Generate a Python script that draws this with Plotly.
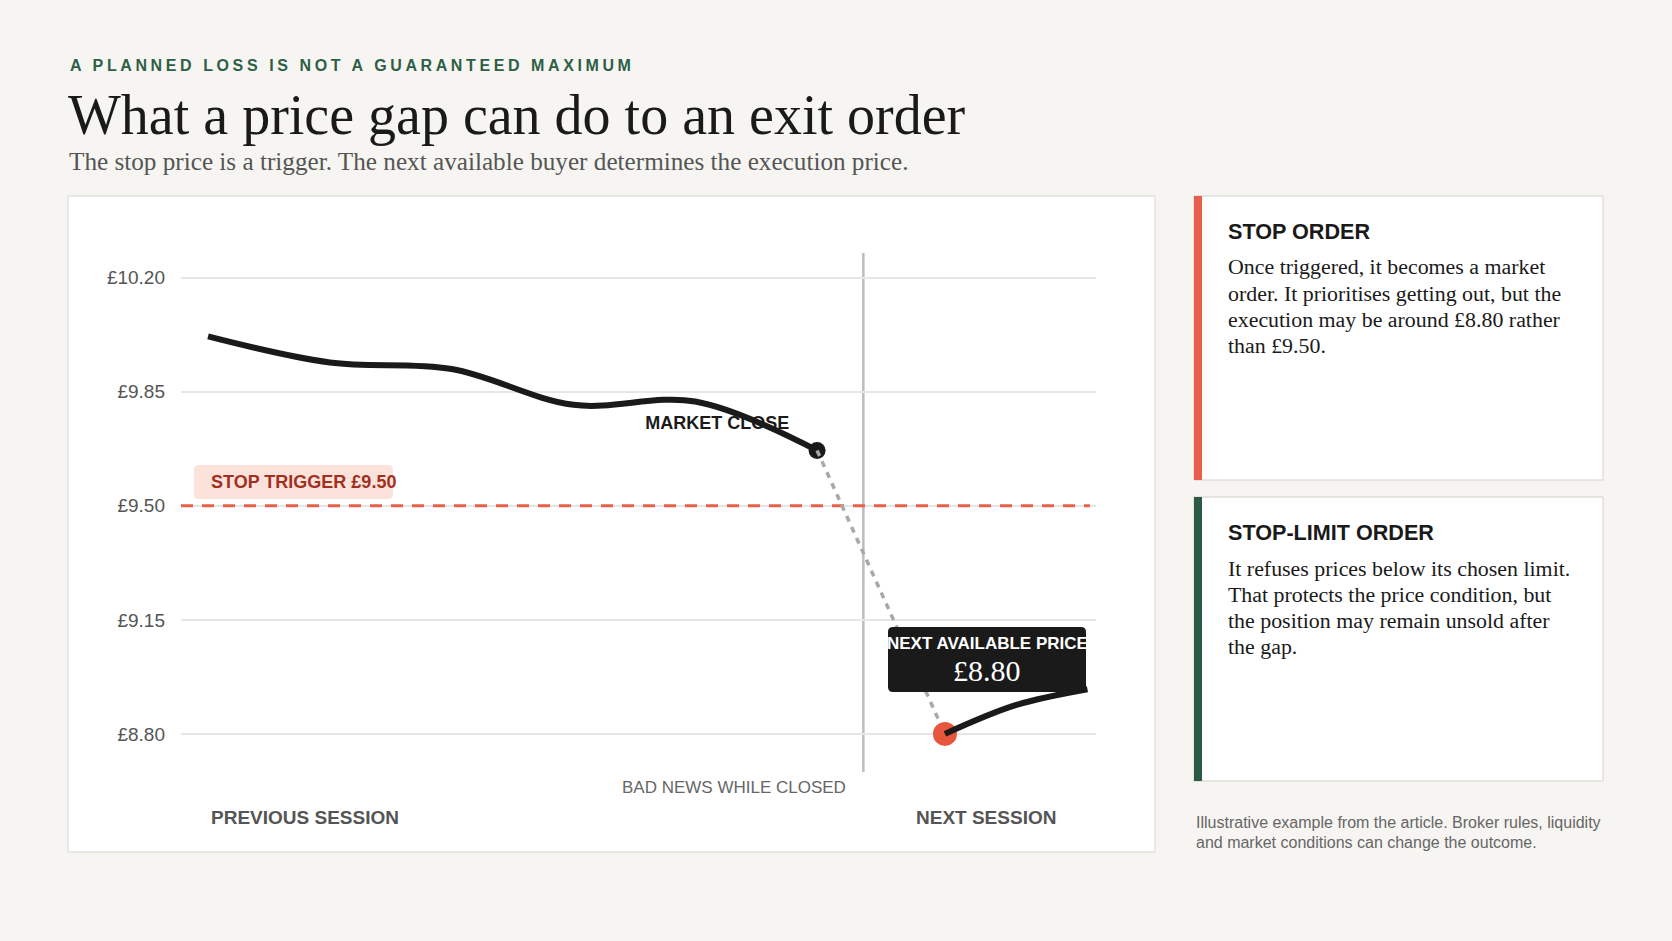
import plotly.graph_objects as go

W, H = 1672, 941

# ---------------- data ----------------
prev_x = [0, 1, 2, 3, 4, 5]
prev_y = [10.02, 9.94, 9.92, 9.81, 9.82, 9.67]
next_x = [6.05, 6.63, 7.22]
next_y = [8.80, 8.888, 8.937]
stop_trigger = 9.50
gap_x = 5.38
y_ticks = [8.80, 9.15, 9.50, 9.85, 10.20]
y_tick_labels = ["£8.80", "£9.15", "£9.50", "£9.85", "£10.20"]
x_range = [-0.222, 7.29]
y_range = [8.683, 10.276]

eyebrow = "A PLANNED LOSS IS NOT A GUARANTEED MAXIMUM"
title = "What a price gap can do to an exit order"
subtitle = "The stop price is a trigger. The next available buyer determines the execution price."
card1_title = "STOP ORDER"
card1_lines = ["Once triggered, it becomes a market",
               "order. It prioritises getting out, but the",
               "execution may be around £8.80 rather",
               "than £9.50."]
card2_title = "STOP-LIMIT ORDER"
card2_lines = ["It refuses prices below its chosen limit.",
               "That protects the price condition, but",
               "the position may remain unsold after",
               "the gap."]
footnote = ["Illustrative example from the article. Broker rules, liquidity",
            "and market conditions can change the outcome."]

# ---------------- style ----------------
BG = "#f6f5f1"
INK = "#1a1a1a"
RED = "#e8604a"
DOT_RED = "#e8553d"
GREEN = "#2d5a45"
SANS = "Liberation Sans, Arial, sans-serif"
SERIF = "Liberation Serif, Georgia, serif"


def px(x):
    return x / W


def py(y):
    return 1 - y / H


def rrect(x0, y0, x1, y1, r):
    pts = []
    pts.append("M %f,%f" % (px(x0 + r), py(y0)))
    pts.append("L %f,%f" % (px(x1 - r), py(y0)))
    pts.append("Q %f,%f %f,%f" % (px(x1), py(y0), px(x1), py(y0 + r)))
    pts.append("L %f,%f" % (px(x1), py(y1 - r)))
    pts.append("Q %f,%f %f,%f" % (px(x1), py(y1), px(x1 - r), py(y1)))
    pts.append("L %f,%f" % (px(x0 + r), py(y1)))
    pts.append("Q %f,%f %f,%f" % (px(x0), py(y1), px(x0), py(y1 - r)))
    pts.append("L %f,%f" % (px(x0), py(y0 + r)))
    pts.append("Q %f,%f %f,%f" % (px(x0), py(y0), px(x0 + r), py(y0)))
    pts.append("Z")
    return " ".join(pts)


fig = go.Figure()

# stop trigger dashed line
fig.add_trace(go.Scatter(
    x=[x_range[0], 7.24], y=[stop_trigger, stop_trigger], mode="lines",
    line=dict(color=RED, width=3, dash="12px,9px"), hoverinfo="skip"))

# market close label (under the line)
fig.add_trace(go.Scatter(
    x=[prev_x[-1] - 0.82], y=[prev_y[-1] + 0.081], mode="text",
    text=["<b>MARKET CLOSE</b>"], textposition="middle center",
    textfont=dict(family=SANS, size=18, color=INK), hoverinfo="skip"))

# previous session
fig.add_trace(go.Scatter(
    x=prev_x, y=prev_y, mode="lines",
    line=dict(color=INK, width=6, shape="spline", smoothing=1), hoverinfo="skip"))
fig.add_trace(go.Scatter(
    x=[prev_x[-1]], y=[prev_y[-1]], mode="markers",
    marker=dict(color=INK, size=17), hoverinfo="skip"))

# gap
fig.add_trace(go.Scatter(
    x=[prev_x[-1], next_x[0]], y=[prev_y[-1], next_y[0]], mode="lines",
    line=dict(color="#a8a8a8", width=3.5, dash="6px,6px"), hoverinfo="skip"))

# next session
fig.add_trace(go.Scatter(
    x=[next_x[0]], y=[next_y[0]], mode="markers",
    marker=dict(color=DOT_RED, size=24), hoverinfo="skip"))
fig.add_trace(go.Scatter(
    x=next_x, y=next_y, mode="lines",
    line=dict(color=INK, width=6, shape="spline", smoothing=1), hoverinfo="skip"))

shapes = []
# chart card
shapes.append(dict(type="rect", xref="paper", yref="paper",
                   x0=px(68), x1=px(1155), y0=py(852), y1=py(196),
                   fillcolor="white", line=dict(color="#d6d5cf", width=1), layer="below"))
# side cards
for (top, bot, col) in [(196, 480, RED), (497, 781, GREEN)]:
    shapes.append(dict(type="rect", xref="paper", yref="paper",
                       x0=px(1194), x1=px(1603), y0=py(bot), y1=py(top),
                       fillcolor="white", line=dict(color="#d3d2cc", width=1), layer="below"))
    shapes.append(dict(type="rect", xref="paper", yref="paper",
                       x0=px(1194), x1=px(1202), y0=py(bot), y1=py(top),
                       fillcolor=col, line=dict(width=0), layer="below"))
# divider
shapes.append(dict(type="line", xref="x", yref="paper", x0=gap_x, x1=gap_x,
                   y0=py(772), y1=py(253), line=dict(color="#bdbdbd", width=2.5),
                   layer="between"))
# stop trigger label box
shapes.append(dict(type="path", xref="paper", yref="paper", path=rrect(194, 465, 393, 499, 5),
                   fillcolor="#fbe3dc", line=dict(width=0), layer="above"))
# next price label box
shapes.append(dict(type="path", xref="paper", yref="paper", path=rrect(888, 627, 1086, 692, 5),
                   fillcolor=INK, line=dict(width=0), layer="above"))

ann = []


def A(x, y, text, size, color, family=SANS, xanchor="left", bold=False):
    ann.append(dict(xref="paper", yref="paper", x=px(x), y=py(y), text=("<b>%s</b>" % text) if bold else text,
                    showarrow=False, xanchor=xanchor, yanchor="middle",
                    align="left" if xanchor == "left" else "center",
                    font=dict(family=family, size=size, color=color)))


A(68, 65, eyebrow, 16, "#2e5e47", bold=True)
A(66, 115, title, 56, INK, family=SERIF)
A(67, 161, subtitle, 25.2, "#555555", family=SERIF)

A(305, 817, "PREVIOUS SESSION", 19, "#555555", xanchor="center", bold=True)
A(986, 817, "NEXT SESSION", 19, "#555555", xanchor="center", bold=True)
A(734, 787, "BAD NEWS WHILE CLOSED", 17, "#666666", xanchor="center")
A(209, 482, "STOP TRIGGER £9.50", 18, "#a3301f", bold=True)
A(987, 643, "NEXT AVAILABLE PRICE", 17, "white", xanchor="center", bold=True)
A(987, 670, "£8.80", 30, "white", family=SERIF, xanchor="center")

A(1226, 231, card1_title, 21.6, INK, bold=True)
for i, line in enumerate(card1_lines):
    A(1226, 267 + 26.3 * i, line, 21.9, INK, family=SERIF)
A(1226, 532, card2_title, 21.6, INK, bold=True)
for i, line in enumerate(card2_lines):
    A(1226, 568 + 26.3 * i, line, 21.9, INK, family=SERIF)
for i, line in enumerate(footnote):
    A(1194, 822 + 20.5 * i, line, 16, "#666666")

fig.update_layout(
    width=W, height=H, margin=dict(l=0, r=0, t=0, b=0),
    paper_bgcolor=BG, plot_bgcolor="rgba(0,0,0,0)",
    showlegend=False, hovermode=False,
    shapes=shapes, annotations=ann,
    xaxis=dict(domain=[px(181), px(1096)], range=x_range, visible=False, fixedrange=True),
    yaxis=dict(domain=[py(772), py(253)], range=y_range, tickvals=y_ticks, ticktext=y_tick_labels,
               showgrid=True, gridcolor="#e6e6e6", gridwidth=1.5, zeroline=False, showline=False,
               ticks="", ticklabelstandoff=15, fixedrange=True,
               tickfont=dict(family=SANS, size=19, color="#555555")),
)

post = """
document.body.style.margin = '0';
document.body.style.padding = '0';
document.body.style.background = '%s';
document.querySelectorAll('text').forEach(function(t){
  if (t.textContent.indexOf('A PLANNED LOSS') === 0) { t.style.letterSpacing = '3.6px'; }
});
""" % BG
fig.write_html("out.html", post_script=post, config={"displayModeBar": False})
